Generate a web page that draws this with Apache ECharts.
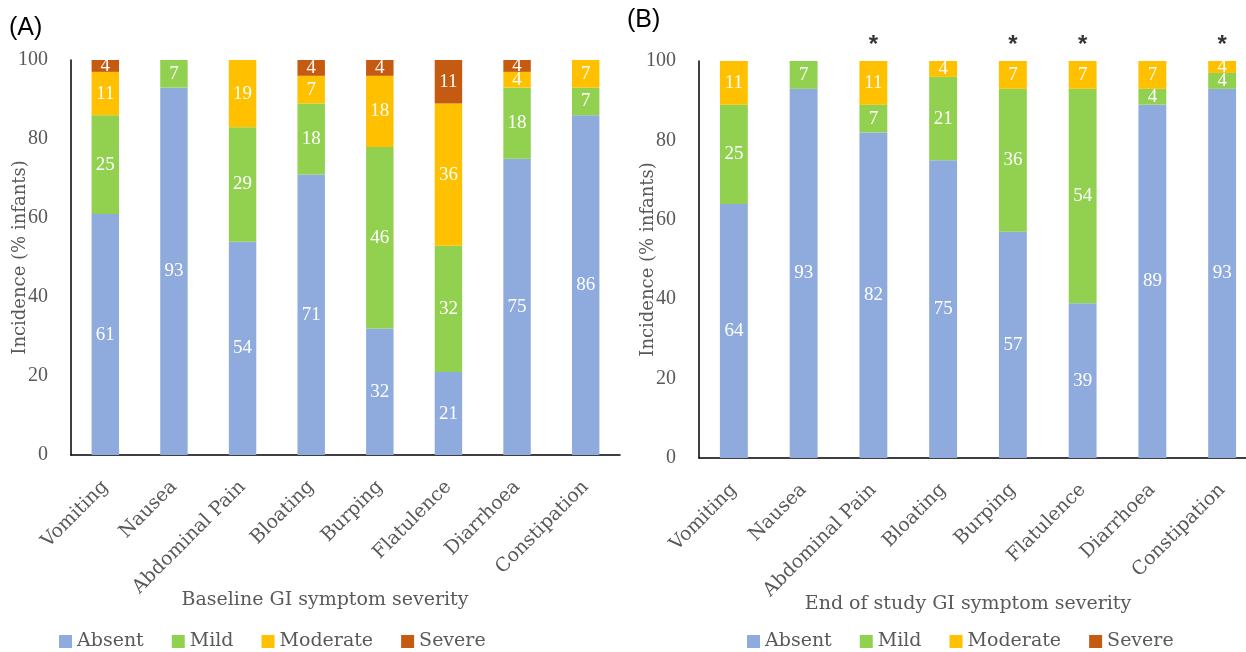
<!DOCTYPE html>
<html><head><meta charset="utf-8">
<script src="https://cdn.jsdelivr.net/npm/echarts@6/dist/echarts.min.js"></script>
<style>html,body{margin:0;padding:0;background:#fff}#c{width:1246px;height:652px}</style>
</head><body><div id="c"></div>
<script>
const categories = ['Vomiting','Nausea','Abdominal Pain','Bloating','Burping','Flatulence','Diarrhoea','Constipation'];
const severityNames = ['Absent','Mild','Moderate','Severe'];
const baseAbsent   = [61, 93, 54, 71, 32, 21, 75, 86];
const baseMild     = [25, 7, 29, 18, 46, 32, 18, 7];
const baseModerate = [11, null, 19, 7, 18, 36, 4, 7];
const baseSevere   = [4, null, null, 4, 4, 11, 4, null];
const endAbsent    = [64, 93, 82, 75, 57, 39, 89, 93];
const endMild      = [25, 7, 7, 21, 36, 54, 4, 4];
const endModerate  = [11, null, 11, 4, 7, 7, 7, 4];
const endSevere    = [null, null, null, null, null, null, null, null];
const endSignificance = ['', '', '*', '', '*', '*', '', '*'];
const sigHeight = 104;
const colors = ['#8FAADC', '#92D050', '#FFC000', '#C55A11'];

const serif = '"DejaVu Serif", serif';
const numSerif = '"Liberation Serif", serif';
const grey = '#595959';

function makeBars(arrs, gridIdx, stack) {
  return arrs.map((d, i) => ({
    name: severityNames[i], type: 'bar', stack: stack,
    xAxisIndex: gridIdx, yAxisIndex: gridIdx,
    data: d, barWidth: '40%',
    itemStyle: { color: colors[i] },
    label: { show: true, position: 'inside', color: '#fff', fontFamily: numSerif, fontSize: 19 },
    emphasis: { disabled: true }
  }));
}
function xAxis(gridIdx) {
  return {
    type: 'category', gridIndex: gridIdx, data: categories,
    axisLine: { lineStyle: { color: '#000', width: 1.5 } },
    axisTick: { show: false },
    axisLabel: { rotate: 45, color: grey, fontFamily: serif, fontSize: 19, margin: 29, interval: 0 }
  };
}
function yAxis(gridIdx) {
  return {
    type: 'value', gridIndex: gridIdx, min: 0, max: 100, interval: 20,
    name: 'Incidence (% infants)', nameLocation: 'middle', nameGap: 42, nameMoveOverlap: false,
    nameTextStyle: { color: grey, fontFamily: serif, fontSize: 18 },
    axisLine: { show: true, lineStyle: { color: '#000', width: 1.5 } },
    axisTick: { show: false }, splitLine: { show: false },
    axisLabel: { color: grey, fontFamily: numSerif, fontSize: 20, margin: 23 }
  };
}

const sigData = endSignificance.map((s, i) => [categories[i], s ? sigHeight : null, s]);
const legendText = { color: grey, fontFamily: serif, fontSize: 19 };

const option = {
  animation: false,
  grid: [
    { left: 71, top: 60, width: 549, height: 395, outerBoundsMode: 'none', containLabel: false },
    { left: 699, top: 61, width: 558, height: 397, outerBoundsMode: 'none', containLabel: false }
  ],
  xAxis: [xAxis(0), xAxis(1)],
  yAxis: [yAxis(0), yAxis(1)],
  legend: [
    { data: severityNames, left: 54, top: 627, itemWidth: 13, itemHeight: 13, itemGap: 28, icon: 'rect',
      textStyle: legendText },
    { data: severityNames, left: 742, top: 627, itemWidth: 13, itemHeight: 13, itemGap: 28, icon: 'rect',
      textStyle: legendText }
  ],
  graphic: [
    { type: 'text', left: 9, top: 16, style: { text: '(A)', font: '25px "Liberation Sans", Arial, sans-serif', fill: '#000' } },
    { type: 'text', left: 627, top: 8, style: { text: '(B)', font: '25px "Liberation Sans", Arial, sans-serif', fill: '#000' } },
    { type: 'text', x: 325, y: 600, style: { text: 'Baseline GI symptom severity', font: '19px ' + serif, fill: grey, align: 'center', verticalAlign: 'middle' } },
    { type: 'text', x: 968, y: 604, style: { text: 'End of study GI symptom severity', font: '19px ' + serif, fill: grey, align: 'center', verticalAlign: 'middle' } }
  ],
  series: [
    ...makeBars([baseAbsent, baseMild, baseModerate, baseSevere], 0, 'base'),
    ...makeBars([endAbsent, endMild, endModerate, endSevere], 1, 'end'),
    {
      type: 'scatter', name: 'sig', xAxisIndex: 1, yAxisIndex: 1, data: sigData, clip: false,
      symbolSize: 1, itemStyle: { color: 'rgba(0,0,0,0)' },
      label: { show: true, position: 'inside', formatter: p => p.data[2], color: '#000',
        fontFamily: '"Liberation Sans", Arial, sans-serif', fontWeight: 'bold', fontSize: 24 },
      emphasis: { disabled: true }
    }
  ]
};
echarts.init(document.getElementById('c')).setOption(option);
</script></body></html>
